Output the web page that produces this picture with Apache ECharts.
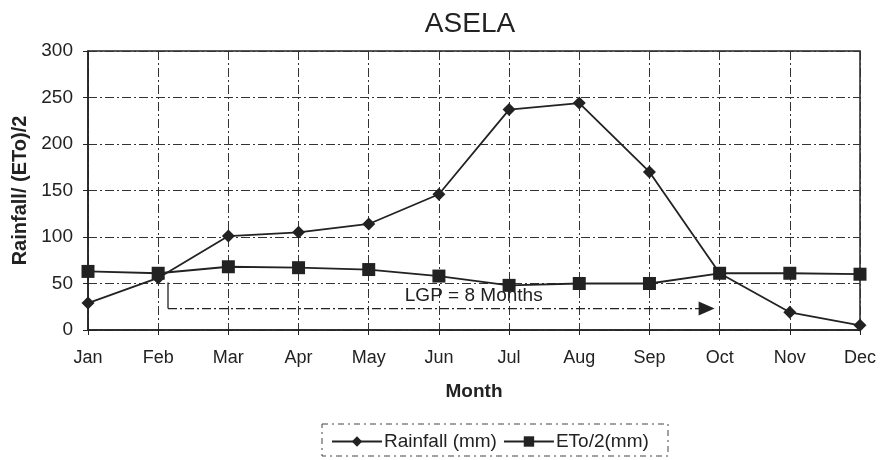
<!DOCTYPE html>
<html>
<head>
<meta charset="utf-8">
<script src="https://cdn.jsdelivr.net/npm/echarts@6/dist/echarts.min.js"></script>
<style>html,body{margin:0;padding:0;background:#fff}#c{width:883px;height:460px}</style>
</head>
<body>
<div id="c"></div>
<script>
var months = ['Jan','Feb','Mar','Apr','May','Jun','Jul','Aug','Sep','Oct','Nov','Dec'];
var rainfall = [29, 56, 101, 105, 114, 146, 237, 244, 170, 61, 19, 5];
var eto2 = [63, 61, 68, 67, 65, 58, 48, 50, 50, 61, 61, 60];
var yTicks = [0, 50, 100, 150, 200, 250, 300];
var lgpText = 'LGP = 8 Months';
var lgpLevel = 23;     // y value of the LGP arrow
var lgpStartMonth = 'Feb';
var lgpEndMonth = 'Oct';

var ink = '#222';
var font = 'Liberation Sans, Arial, sans-serif';
var chart = echarts.init(document.getElementById('c'));
var gridLine = {show: true, lineStyle: {color: '#333', width: 1, type: [9, 3, 2, 3]}};

chart.setOption({
  animation: false,
  backgroundColor: '#fff',
  title: {text: 'ASELA', left: 465, top: 5, textAlign: 'center',
    textStyle: {fontFamily: font, fontSize: 28, fontWeight: 'normal', color: ink}},
  grid: {left: 88, right: 23, top: 51, bottom: 130, show: true, borderColor: ink, borderWidth: 1.5},
  legend: {
    left: 326, top: 427, itemWidth: 50, itemHeight: 13, itemGap: 6,
    textStyle: {fontFamily: font, fontSize: 19, color: ink, padding: [0, 0, 0, -3]},
    data: ['Rainfall (mm)', 'ETo/2(mm)']
  },
  xAxis: {
    type: 'category', data: months, boundaryGap: false,
    name: 'Month', nameLocation: 'middle', nameGap: 52,
    nameTextStyle: {fontFamily: font, fontSize: 19, fontWeight: 'bold', color: ink},
    axisLine: {lineStyle: {color: ink, width: 1.5}},
    axisTick: {show: true, length: 5, lineStyle: {color: ink}},
    axisLabel: {fontFamily: font, fontSize: 18, color: ink, margin: 19},
    splitLine: gridLine
  },
  yAxis: {
    type: 'value', min: yTicks[0], max: yTicks[yTicks.length - 1], interval: yTicks[1] - yTicks[0],
    name: 'Rainfall/ (ETo)/2', nameLocation: 'middle', nameGap: 56,
    nameTextStyle: {fontFamily: font, fontSize: 20, fontWeight: 'bold', color: ink},
    axisLine: {show: true, lineStyle: {color: ink, width: 1.5}},
    axisTick: {show: true, length: 5, lineStyle: {color: ink}},
    axisLabel: {fontFamily: font, fontSize: 19, color: ink, margin: 15},
    splitLine: gridLine
  },
  series: [
    {name: 'Rainfall (mm)', type: 'line', data: rainfall, symbol: 'diamond', symbolSize: 13,
      lineStyle: {color: ink, width: 1.8}, itemStyle: {color: ink}, z: 5},
    {name: 'ETo/2(mm)', type: 'line', data: eto2, symbol: 'rect', symbolSize: 13,
      lineStyle: {color: ink, width: 1.8}, itemStyle: {color: ink}, z: 4}
  ]
});

function drawAnnotations() {
  var i0 = months.indexOf(lgpStartMonth), i1 = months.indexOf(lgpEndMonth);
  var pFeb = chart.convertToPixel({gridIndex: 0}, [i0, lgpLevel]);
  var pMar = chart.convertToPixel({gridIndex: 0}, [i0 + 1, lgpLevel]);
  var pOct = chart.convertToPixel({gridIndex: 0}, [i1, lgpLevel]);
  var pTop = chart.convertToPixel({gridIndex: 0}, [i0, eto2[i0] - 10]);
  var step = pMar[0] - pFeb[0];
  var xs = pFeb[0] + step * 0.14;
  var xe = pOct[0] - 5;
  var midX = pFeb[0] + (pOct[0] - pFeb[0]) * 0.562;
  var legendBox = {x: 322, y: 424, w: 346, h: 32};
  chart.setOption({
    graphic: [
      {type: 'line', shape: {x1: xs, y1: pTop[1], x2: xs, y2: pFeb[1]},
        style: {stroke: ink, lineWidth: 1.3}},
      {type: 'line', shape: {x1: xs, y1: pFeb[1], x2: xe - 14, y2: pFeb[1]},
        style: {stroke: ink, lineWidth: 1.2, lineDash: [9, 3, 2, 3]}},
      {type: 'polygon', shape: {points: [[xe - 16, pFeb[1] - 7], [xe, pFeb[1]], [xe - 16, pFeb[1] + 7]]},
        style: {fill: ink}},
      {type: 'text', x: midX, y: pFeb[1] - 13,
        style: {text: lgpText, fill: ink, font: '19px ' + font, textAlign: 'center', textVerticalAlign: 'middle'}},
      {type: 'rect', shape: {x: legendBox.x, y: legendBox.y, width: legendBox.w, height: legendBox.h},
        style: {fill: 'none', stroke: '#444', lineWidth: 1, lineDash: [6, 4, 2, 4]}}
    ]
  });
}
drawAnnotations();
</script>
</body>
</html>
